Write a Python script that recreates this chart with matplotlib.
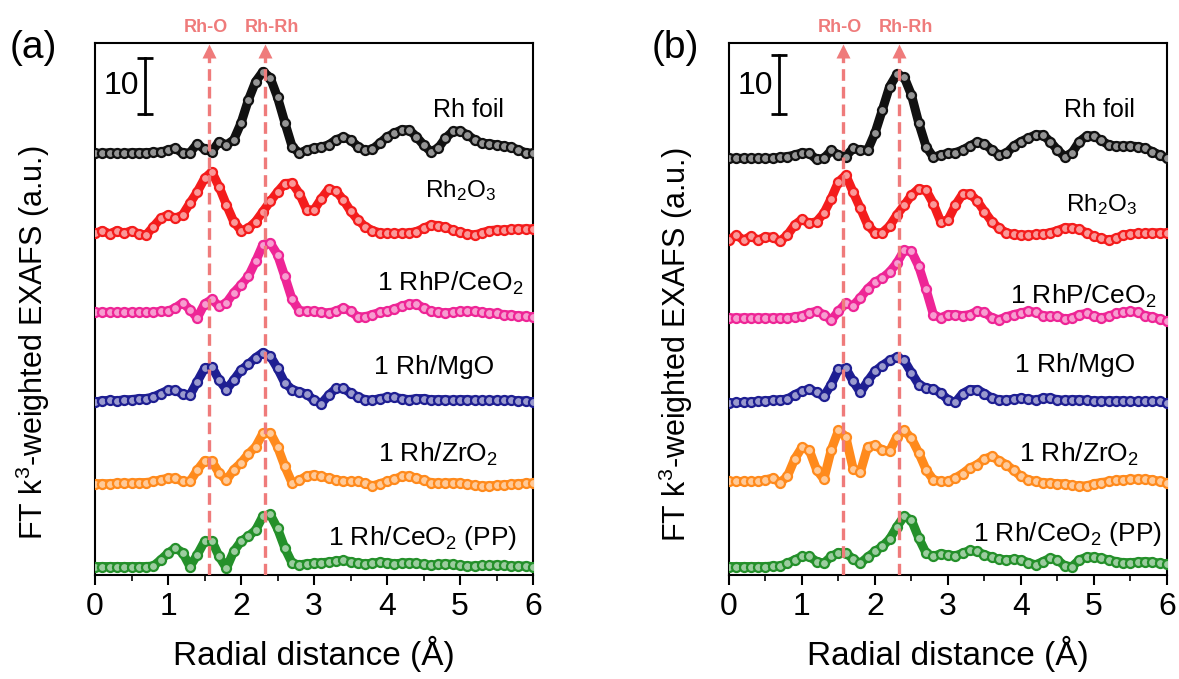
import numpy as np
import matplotlib
matplotlib.use('Agg')
from matplotlib import pyplot as plt
from matplotlib.colors import to_rgb

plt.rcParams['font.family'] = ['Liberation Sans', 'DejaVu Sans']
plt.rcParams['mathtext.fontset'] = 'custom'
plt.rcParams['mathtext.rm'] = 'Liberation Sans'
plt.rcParams['mathtext.default'] = 'rm'

# radial distance grid (A), 0.1 A step
r = np.linspace(0, 6, 61)

names = ['Rh foil', r'Rh$_2$O$_3$', r'1 RhP/CeO$_2$', '1 Rh/MgO',
         r'1 Rh/ZrO$_2$', r'1 Rh/CeO$_2$ (PP)']
colors = ['#111111', '#F41C1C', '#EE2596', '#1E1E92', '#FF8A1C', '#24902A']

# ---- panel (a): FT magnitudes (scale bar = 10) ----
foil_a = [0.0, 0.0, 0.1, 0.0, 0.0, 0.1, 0.1, 0.1, 0.2, 0.2,
          0.6, 0.9, 0.0, 0.1, 1.7, 0.7, 0.3, 2.1, 1.5, 2.4,
          5.4, 9.5, 12.8, 14.6, 13.5, 10.0, 5.5, 1.2, 0.0, 0.6,
          0.9, 1.1, 1.5, 2.4, 2.9, 2.4, 1.2, 0.5, 0.7, 1.8,
          2.9, 3.6, 4.2, 4.2, 3.0, 1.5, 0.3, 0.9, 2.7, 3.9,
          4.0, 3.3, 2.4, 1.8, 1.7, 1.5, 1.3, 1.1, 0.6, 0.1,
          0.0]
rh2o3_a = [0.3, 0.8, 0.2, 0.8, 0.3, 0.8, 0.2, 0.0, 1.5, 3.0,
           3.6, 3.0, 3.6, 5.7, 7.7, 10.1, 11.3, 8.6, 5.4, 2.4,
           0.8, 1.2, 2.4, 4.2, 6.0, 7.7, 9.2, 9.3, 7.4, 4.5,
           4.5, 6.5, 8.2, 7.9, 6.3, 4.3, 2.7, 1.5, 0.8, 0.4,
           0.3, 0.3, 0.3, 0.4, 0.6, 1.2, 1.8, 1.7, 1.4, 0.9,
           0.5, 0.2, 0.0, 0.4, 0.8, 0.9, 0.9, 1.0, 1.1, 1.1,
           1.1]
rhp_a = [1.0, 1.0, 1.0, 1.0, 1.0, 1.0, 1.0, 1.0, 1.0, 1.2,
         1.2, 1.8, 2.7, 1.5, 0.0, 2.5, 3.3, 2.1, 2.7, 4.5,
         5.9, 7.4, 10.1, 13.1, 13.4, 11.3, 7.4, 3.3, 1.3, 1.2,
         1.2, 1.0, 0.9, 1.2, 1.8, 1.2, 0.2, 0.2, 0.6, 1.0,
         1.2, 1.6, 2.1, 2.5, 2.5, 1.8, 1.2, 1.0, 0.9, 1.0,
         1.2, 1.2, 1.2, 1.0, 0.9, 0.8, 0.6, 0.5, 0.4, 0.3,
         0.2]
mgo_a = [0.4, 0.6, 0.7, 0.6, 0.8, 0.8, 1.0, 1.0, 1.3, 1.9,
         2.5, 2.5, 1.8, 1.6, 4.0, 6.4, 6.7, 4.3, 2.6, 4.3,
         6.1, 7.1, 8.3, 9.2, 8.6, 6.4, 3.8, 2.6, 2.2, 1.8,
         0.7, 0.1, 1.6, 2.8, 2.8, 2.0, 1.3, 0.8, 0.7, 1.0,
         1.2, 1.2, 1.0, 0.8, 1.0, 1.0, 0.8, 0.8, 0.8, 0.7,
         0.8, 0.8, 0.7, 0.7, 0.7, 0.7, 0.7, 0.7, 0.6, 0.6,
         0.4]
zro2_a = [0.8, 0.8, 0.8, 0.9, 0.9, 0.9, 1.0, 1.0, 1.2, 1.5,
          1.8, 1.8, 1.2, 1.2, 3.2, 4.9, 4.8, 2.7, 1.4, 3.3,
          4.5, 6.1, 7.4, 9.8, 9.9, 7.4, 3.9, 0.9, 1.4, 2.2,
          2.4, 2.1, 1.8, 1.5, 1.2, 1.2, 1.2, 0.9, 0.4, 0.8,
          1.2, 1.6, 2.1, 2.2, 1.8, 1.4, 1.0, 0.9, 0.9, 1.0,
          0.9, 0.7, 0.5, 0.4, 0.4, 0.5, 0.6, 0.7, 0.8, 0.9,
          0.9]
cepp_a = [0.3, 0.3, 0.3, 0.3, 0.3, 0.3, 0.3, 0.3, 0.4, 1.5,
          2.7, 3.6, 2.8, 0.3, 2.4, 4.8, 4.9, 2.1, 0.0, 3.0,
          4.8, 5.7, 6.8, 9.3, 9.6, 7.1, 3.6, 0.9, 0.6, 0.8,
          0.9, 1.0, 1.1, 1.3, 1.4, 1.2, 0.9, 0.8, 0.9, 1.1,
          1.0, 0.8, 0.9, 1.0, 0.9, 0.7, 0.5, 0.7, 0.8, 0.7,
          0.5, 0.4, 0.4, 0.5, 0.5, 0.6, 0.5, 0.4, 0.4, 0.4,
          0.3]
offsets_a = [75.3, 60.7, 45.9, 30.5, 15.5, 1.2]

# ---- panel (b) ----
foil_b = [0.4, 0.4, 0.4, 0.4, 0.4, 0.4, 0.4, 0.6, 0.7, 1.0,
          1.4, 1.3, 0.2, 0.4, 1.8, 1.0, 0.7, 2.2, 1.9, 1.9,
          4.9, 9.0, 13.2, 15.4, 14.9, 11.7, 6.7, 2.5, 0.6, 1.0,
          1.3, 1.4, 1.9, 2.6, 3.3, 3.0, 1.9, 1.0, 1.3, 2.6,
          3.4, 4.0, 4.6, 4.6, 3.4, 1.9, 0.7, 1.4, 3.4, 4.4,
          4.4, 3.6, 2.8, 2.6, 2.6, 2.6, 2.5, 2.2, 1.6, 1.0,
          0.4]
rh2o3_b = [0.3, 1.2, 0.3, 1.0, 0.3, 0.9, 0.8, 0.1, 1.2, 3.0,
           4.0, 3.3, 3.6, 5.1, 7.7, 10.7, 11.9, 8.9, 6.0, 3.0,
           1.6, 1.6, 2.8, 4.8, 6.5, 8.3, 9.5, 9.2, 6.8, 3.6,
           3.9, 6.5, 8.5, 8.6, 7.3, 5.4, 3.6, 2.4, 1.6, 1.3,
           1.2, 1.2, 1.3, 1.4, 1.6, 2.0, 2.5, 2.5, 2.2, 1.6,
           1.0, 0.6, 0.3, 0.6, 1.2, 1.4, 1.5, 1.5, 1.6, 1.6,
           1.6]
rhp_b = [0.6, 0.6, 0.6, 0.6, 0.6, 0.6, 0.6, 0.6, 0.6, 0.8,
         1.0, 1.5, 1.8, 1.2, 0.2, 1.8, 3.2, 2.8, 4.2, 5.8,
         7.0, 7.7, 8.8, 10.4, 12.7, 12.5, 9.8, 5.7, 1.2, 0.6,
         1.2, 1.2, 1.0, 1.2, 1.8, 1.6, 0.6, 0.3, 0.8, 1.2,
         1.5, 1.8, 1.6, 1.0, 0.9, 0.9, 0.4, 0.6, 1.2, 1.4,
         0.9, 0.6, 0.9, 1.4, 1.6, 1.8, 1.6, 1.0, 0.8, 0.4,
         0.0]
mgo_b = [0.3, 0.4, 0.4, 0.5, 0.6, 0.7, 0.8, 0.9, 1.0, 1.8,
         2.4, 2.8, 2.2, 1.5, 3.6, 6.3, 6.5, 4.2, 2.2, 4.2,
         6.0, 7.0, 7.9, 8.5, 7.9, 5.7, 3.6, 3.0, 2.8, 2.1,
         0.9, 0.4, 2.0, 2.7, 2.7, 2.0, 1.2, 0.9, 0.8, 1.0,
         1.2, 1.0, 0.8, 1.2, 1.2, 0.9, 0.8, 0.9, 0.9, 0.8,
         0.7, 0.7, 0.7, 0.7, 0.7, 0.6, 0.6, 0.6, 0.6, 0.6,
         0.3]
zro2_b = [0.9, 0.9, 0.9, 0.9, 0.9, 1.2, 1.5, 0.7, 1.8, 4.9,
          7.0, 6.5, 3.0, 1.3, 6.5, 10.0, 8.9, 3.2, 2.6, 7.1,
          7.4, 6.5, 6.3, 8.9, 10.0, 8.6, 6.0, 3.0, 1.2, 0.9,
          0.9, 1.5, 2.3, 3.3, 3.9, 4.9, 5.4, 4.6, 3.9, 2.9,
          1.8, 1.2, 0.9, 0.7, 0.6, 0.5, 0.5, 0.2, 0.1, 0.1,
          0.5, 0.7, 0.9, 1.1, 1.2, 1.3, 1.3, 1.3, 1.2, 0.9,
          0.7]
cepp_b = [0.3, 0.3, 0.3, 0.3, 0.3, 0.3, 0.4, 0.4, 0.9, 1.5,
          2.1, 2.1, 1.2, 0.9, 2.1, 2.8, 2.8, 1.6, 0.9, 2.0,
          3.0, 3.9, 5.2, 7.4, 9.3, 8.6, 5.4, 2.7, 2.1, 2.6,
          2.4, 2.2, 2.7, 3.2, 3.0, 2.4, 2.0, 1.6, 1.5, 1.6,
          1.5, 1.0, 0.6, 1.2, 1.8, 1.5, 0.4, 0.3, 1.5, 2.0,
          2.0, 1.8, 1.5, 1.2, 1.0, 1.0, 1.1, 1.2, 1.1, 0.9,
          0.8]
offsets_b = [74.0, 59.5, 45.3, 30.4, 15.8, 1.2]

# label positions (R, y) for each curve
label_xy_a = [(5.11, 83.0), (5.01, 68.6), (4.86, 52.0), (4.64, 37.1), (4.70, 21.6), (4.49, 6.6)]
label_xy_b = [(5.07, 83.0), (5.10, 66.1), (4.85, 49.8), (4.74, 37.5), (4.79, 21.6), (4.64, 7.3)]
label_fs = [18, 17.5, 19, 19, 19, 19]

bond_r = [1.56, 2.33]
bond_text = ['Rh-O', 'Rh-Rh']
bond_text_r = [1.52, 2.42]
dash_col = '#EF7B7B'

fig = plt.figure(figsize=(11.79, 6.79), dpi=100)
ax_a = fig.add_axes([0.0806, 0.1532, 0.3715, 0.7835])
ax_b = fig.add_axes([0.6183, 0.1532, 0.3715, 0.7835])

panels = [
    (ax_a, [foil_a, rh2o3_a, rhp_a, mgo_a, zro2_a, cepp_a], offsets_a, label_xy_a, 10.0),
    (ax_b, [foil_b, rh2o3_b, rhp_b, mgo_b, zro2_b, cepp_b], offsets_b, label_xy_b, 10.5),
]

for ax, series, offs, lxy, bar in panels:
    for vals, off, c, name, (lx, ly), fs in zip(series, offs, colors, names, lxy, label_fs):
        y = np.array(vals) + off
        tint = tuple(0.45 * np.array(to_rgb(c)) + 0.55)  # light centre of the open circles
        ax.plot(r, y, color=c, lw=6.5, solid_capstyle='round', zorder=3)
        ax.plot(r, y, ls='none', marker='o', ms=6.5, mfc=tint, mec=c, mew=1.6, zorder=4)
        ax.text(lx, ly, name, ha='center', va='center', fontsize=fs)

    for br in bond_r:
        ax.plot([br, br], [0, 92.5], ls=(0, (3.5, 1.8)), color=dash_col, lw=2.4, zorder=5)
        ax.plot(br, 93.6, marker='^', ms=10, color=dash_col, mec='none', clip_on=False, zorder=6)
    for tr, tx in zip(bond_text_r, bond_text):
        ax.text(tr, 97.7, tx, ha='center', va='center', color=dash_col,
                fontsize=13, fontweight='bold', clip_on=False)

    # scale bar
    ax.plot([0.68, 0.68], [82.4, 82.4 + bar], color='k', lw=2, marker='_', ms=11, mew=2)
    ax.text(0.36, 87.3, '10', ha='center', va='center', fontsize=23)

    ax.set_xlim(0, 6)
    ax.set_ylim(0, 95)
    ax.set_xticks(range(7))
    ax.set_xticks(np.arange(0.5, 6, 1.0), minor=True)
    ax.set_yticks([])
    ax.tick_params(axis='x', which='major', direction='out', length=7, width=1.5,
                   labelsize=23, pad=5, top=False)
    ax.tick_params(axis='x', which='minor', direction='out', length=4, width=1.2, top=False)
    for s in ax.spines.values():
        s.set_linewidth(1.5)
    ax.set_xlabel('Radial distance (Å)', fontsize=24, labelpad=10)

fig.text(0.028, 0.496, r'FT k$^3$-weighted EXAFS (a.u.)', rotation=90,
         ha='center', va='center', fontsize=22)
fig.text(0.573, 0.492, r'FT k$^3$-weighted EXAFS (a.u.)', rotation=90,
         ha='center', va='center', fontsize=22)
fig.text(0.028, 0.93, '(a)', ha='center', va='center', fontsize=28)
fig.text(0.573, 0.93, '(b)', ha='center', va='center', fontsize=28)

fig.savefig('out.png', dpi=100)
